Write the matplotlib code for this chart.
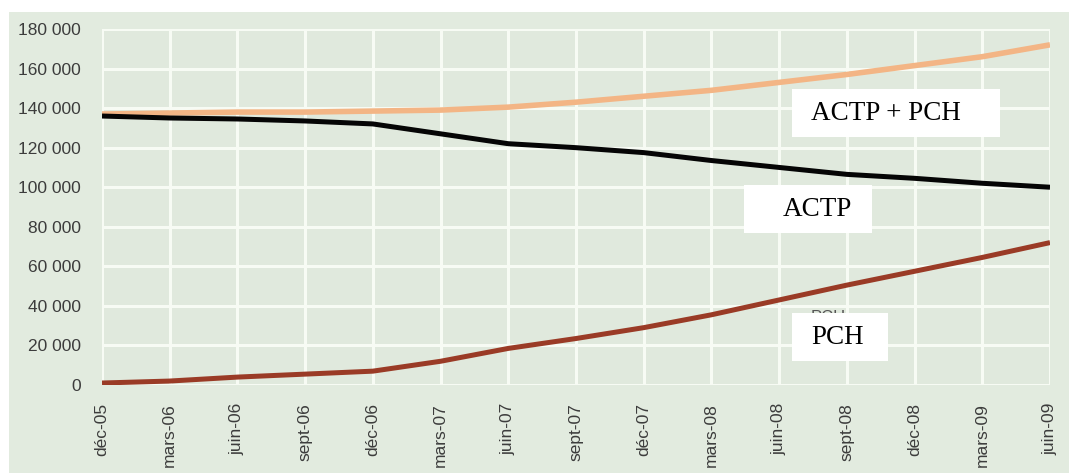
import numpy as np
import matplotlib
matplotlib.use('Agg')
import matplotlib.pyplot as plt
from matplotlib.patches import Rectangle

# données trimestrielles (déc-05 -> juin-09)
dates = ['déc-05', 'mars-06', 'juin-06', 'sept-06', 'déc-06', 'mars-07', 'juin-07',
         'sept-07', 'déc-07', 'mars-08', 'juin-08', 'sept-08', 'déc-08', 'mars-09', 'juin-09']
actp_pch = [137000, 137500, 138000, 138000, 138500, 139000, 140500, 143000,
            146000, 149000, 153000, 157000, 161500, 166000, 172000]
actp = [136000, 135000, 134500, 133500, 132000, 127000, 122000, 120000,
        117500, 113500, 110000, 106500, 104500, 102000, 100000]
pch = [1000, 2000, 4000, 5500, 7000, 12000, 18500, 23500,
       29000, 35500, 43000, 50500, 57500, 64500, 72000]
yticks = np.arange(0, 180001, 20000)
ytick_labels = ['{:,}'.format(v).replace(',', ' ') for v in yticks]

W, H = 1069, 475
bg = '#e0e9dd'

fig = plt.figure(figsize=(W / 100, H / 100), dpi=100, facecolor='white')

def fx(px):
    return px / W

def fy(py):
    return 1 - py / H

# fond vert clair du graphique
fig.patches.append(Rectangle((fx(9), fy(473)), fx(1069) - fx(9), fy(12) - fy(473),
                             transform=fig.transFigure, facecolor='#e2ebdf',
                             edgecolor='none', zorder=-1))

ax = fig.add_axes([fx(102), fy(385), fx(1050) - fx(102), fy(29) - fy(385)])
ax.set_facecolor(bg)
x = np.arange(len(dates))

ax.plot(x, actp_pch, color='#f3b585', lw=4, solid_capstyle='butt', zorder=3)
ax.plot(x, actp, color='#050505', lw=3.6, solid_capstyle='butt', zorder=4)
ax.plot(x, pch, color='#9a3b26', lw=3.6, solid_capstyle='butt', zorder=4)

ax.set_xlim(0, len(dates) - 1)
ax.set_ylim(0, 180000)
ax.set_xticks(x)
ax.set_xticklabels(dates, rotation=90, fontsize=12.5, color='#3c3c3c',
                   family='Liberation Sans')
ax.set_yticks(yticks)
ax.set_yticklabels(ytick_labels, fontsize=12.5, color='#3c3c3c', family='Liberation Sans')
ax.tick_params(axis='both', length=0)
ax.tick_params(axis='y', pad=15)
ax.tick_params(axis='x', pad=13)
ax.grid(True, color='#f7fbf4', lw=2.2, zorder=1)
ax.set_axisbelow(True)
for s in ax.spines.values():
    s.set_visible(False)

# étiquette "PCH" d'origine, masquée en partie
fig.text(fx(828), fy(318), 'PCH', ha='center', va='center', fontsize=12,
         color='#555555', family='Liberation Sans', zorder=0.5)

# encadrés blancs
boxes = [((792, 89, 1000, 137), 'ACTP + PCH', 811, 113),
         ((744, 185, 872, 233), 'ACTP', 783, 210),
         ((792, 313, 888, 361), 'PCH', 811, 337)]
for (x0, y0, x1, y1), label, tx, ty in boxes:
    fig.patches.append(Rectangle((fx(x0), fy(y1)), fx(x1) - fx(x0), fy(y0) - fy(y1),
                                 transform=fig.transFigure, facecolor='white',
                                 edgecolor='none', zorder=1))
    fig.text(fx(tx), fy(ty), label, ha='left', va='center', fontsize=19.5,
             color='black', family='Liberation Serif', zorder=2)

plt.savefig('out.png', dpi=100)
